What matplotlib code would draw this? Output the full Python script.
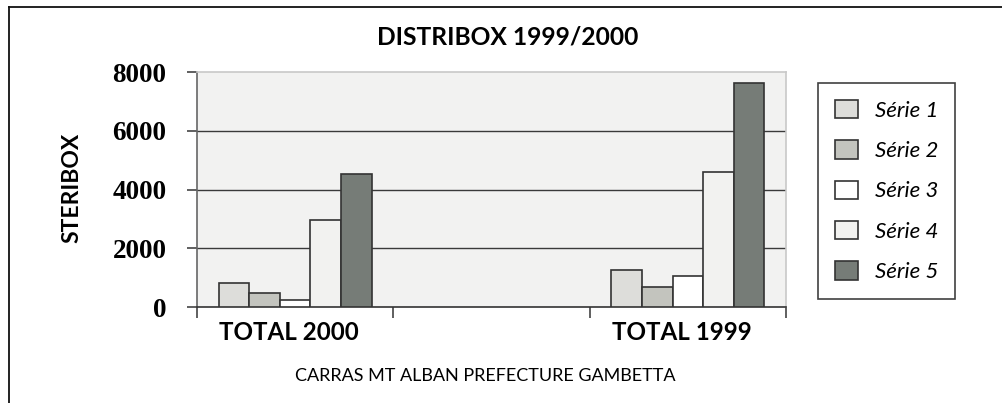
"""DISTRIBOX 1999/2000 bar chart"""
import matplotlib
matplotlib.use("Agg")
import matplotlib.pyplot as plt
import numpy as np
from matplotlib.lines import Line2D
from matplotlib.patches import Patch

categories = ["TOTAL 2000", "", "TOTAL 1999"]
series_names = ["Série 1", "Série 2", "Série 3", "Série 4", "Série 5"]
# middle category is empty in the original sheet
serie_1 = [820, np.nan, 1270]
serie_2 = [480, np.nan, 670]
serie_3 = [240, np.nan, 1070]
serie_4 = [2960, np.nan, 4590]
serie_5 = [4530, np.nan, 7610]
y_ticks = [0, 2000, 4000, 6000, 8000]

colors = ["#DDDDDA", "#C3C4BE", "#FFFFFF", "#F2F2F0", "#767C77"]

fig = plt.figure(figsize=(10.03, 4.03), dpi=100, facecolor="white")
ax = fig.add_axes([0.1964, 0.2382, 0.5873, 0.5831])
ax.set_facecolor("#F2F2F1")

x = np.arange(len(categories))
width = 0.156
all_series = [serie_1, serie_2, serie_3, serie_4, serie_5]
for i, vals in enumerate(all_series):
    ax.bar(x + (i - 2) * width, vals, width, color=colors[i], edgecolor="#333333",
           linewidth=1.2, zorder=3, label=series_names[i])

ax.set_xlim(-0.5, len(categories) - 0.5)
ax.set_ylim(0, 8000)
ax.set_yticks(y_ticks)
ax.set_yticklabels([str(v) for v in y_ticks], fontfamily="Liberation Serif",
                   fontweight="bold", fontsize=19.5)
for v in y_ticks[1:-1]:
    ax.axhline(v, color="#3A3A3A", linewidth=1.0, zorder=1)

# category ticks sit on the boundaries, labels in the middle
ax.set_xticks(np.arange(-0.5, len(categories), 1.0))
ax.set_xticklabels([])
ax.set_xticks(x - 0.03, minor=True)
ax.set_xticklabels(categories, minor=True, fontfamily="Lato", fontweight="bold", fontsize=17.4)
ax.tick_params(axis="x", which="minor", length=0, pad=10)
ax.tick_params(axis="x", which="major", length=8, width=1.2, color="#444444", direction="out")
ax.tick_params(axis="y", length=7, width=1.2, color="#444444", direction="out", pad=15)

ax.spines["top"].set_color("#C8C8C8")
ax.spines["right"].set_color("#C8C8C8")
ax.spines["left"].set_color("#666666")
ax.spines["bottom"].set_color("#333333")
for s in ax.spines.values():
    s.set_linewidth(1.2)

ax.set_ylabel("STERIBOX", fontfamily="Lato", fontweight="bold", fontsize=16.5)
ax.yaxis.set_label_coords(-0.195, 0.506)
ax.set_xlabel("CARRAS MT ALBAN PREFECTURE GAMBETTA", fontfamily="Lato", fontsize=13)
ax.xaxis.set_label_coords(0.49, -0.26)
fig.text(0.506, 0.909, "DISTRIBOX 1999/2000", ha="center", va="center",
         fontfamily="Lato", fontweight="bold", fontsize=17.7)

handles = [Patch(facecolor=colors[i], edgecolor="#333333", linewidth=1.2)
           for i in range(len(series_names))]
leg = fig.legend(handles, series_names, loc="upper left",
                 bbox_to_anchor=(818 / 1003, 1 - 83 / 403),
                 prop={"family": "Lato", "style": "italic", "size": 16},
                 frameon=True, fancybox=False, borderpad=0.75, labelspacing=0.88,
                 handlelength=1.05, handleheight=0.9, handletextpad=0.75, borderaxespad=0)
leg.get_frame().set_edgecolor("#111111")
leg.get_frame().set_linewidth(1.2)

# outer chart frame
fig.add_artist(Line2D([9.5 / 1003, 9.5 / 1003], [0, 1 - 6.5 / 403], transform=fig.transFigure,
                      color="#111111", linewidth=1.3))
fig.add_artist(Line2D([9.5 / 1003, 1], [1 - 6.5 / 403, 1 - 6.5 / 403], transform=fig.transFigure,
                      color="#111111", linewidth=1.3))

plt.savefig("out.png", format="png", dpi=100)
plt.close()
